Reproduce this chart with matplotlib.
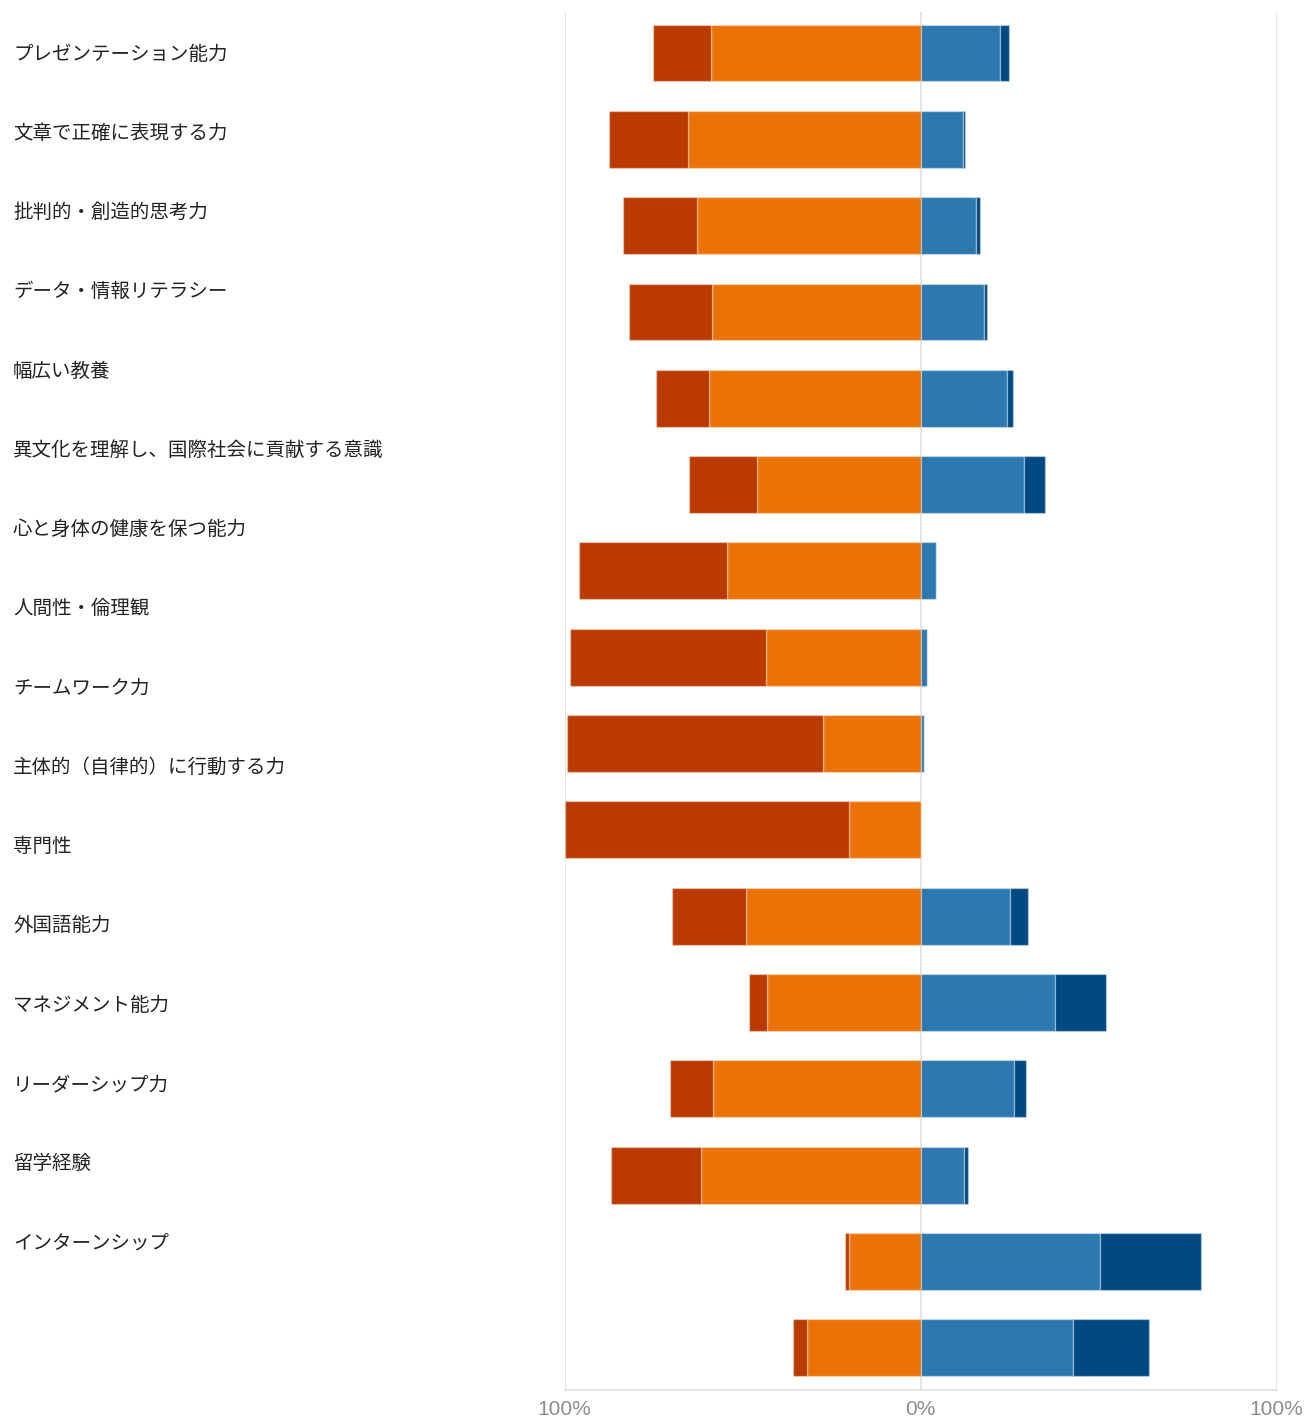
import numpy as np
import matplotlib
matplotlib.use("Agg")
import matplotlib.pyplot as plt

plt.rcParams['font.family'] = ['Noto Sans CJK JP', 'DejaVu Sans']

# 項目ラベル（左側）
labels = [
    'プレゼンテーション能力',
    '文章で正確に表現する力',
    '批判的・創造的思考力',
    'データ・情報リテラシー',
    '幅広い教養',
    '異文化を理解し、国際社会に貢献する意識',
    '心と身体の健康を保つ能力',
    '人間性・倫理観',
    'チームワーク力',
    '主体的（自律的）に行動する力',
    '専門性',
    '外国語能力',
    'マネジメント能力',
    'リーダーシップ力',
    '留学経験',
    'インターンシップ',
]

# values in % (left side: strong / moderate, right side: moderate / strong)
neg_strong = [16.3, 22.3, 20.8, 23.1, 15.0, 19.1, 41.5, 55.1, 71.9, 79.9, 20.8, 5.2, 12.2, 25.2, 1.1, 3.8]
neg_mod    = [58.8, 65.2, 62.7, 58.7, 59.3, 45.8, 54.3, 43.4, 27.4, 20.1, 49.1, 43.0, 58.2, 61.7, 20.1, 31.9]
pos_mod    = [22.3, 12.0, 15.6, 17.8, 24.2, 29.2, 4.3, 1.9, 1.0, 0.0, 25.1, 37.8, 26.3, 12.3, 50.4, 42.9]
pos_strong = [2.5, 0.5, 1.0, 0.8, 1.7, 5.9, 0.0, 0.0, 0.0, 0.0, 5.1, 14.2, 3.4, 1.0, 28.3, 21.3]

xticks = [-100, 0, 100]
xticklabels = ['100%', '0%', '100%']

C_NEG_STRONG = '#bb3a00'
C_NEG_MOD = '#eb7207'
C_POS_MOD = '#2c79b0'
C_POS_STRONG = '#014983'

neg_strong = np.array(neg_strong)
neg_mod = np.array(neg_mod)
pos_mod = np.array(pos_mod)
pos_strong = np.array(pos_strong)
y = np.arange(len(neg_mod))

fig = plt.figure(figsize=(13.1, 14.2), dpi=100)
ax = fig.add_axes([564.5 / 1310, 30 / 1420, 712 / 1310, 1378 / 1420])

edge = dict(edgecolor=(1, 1, 1, 0.35), linewidth=1, height=0.66, zorder=3)
ax.barh(y, -neg_mod, color=C_NEG_MOD, **edge)
ax.barh(y, -neg_strong, left=-neg_mod, color=C_NEG_STRONG, **edge)
ax.barh(y, pos_mod, color=C_POS_MOD, **edge)
ax.barh(y, pos_strong, left=pos_mod, color=C_POS_STRONG, **edge)

ax.set_xlim(-100, 100)
ax.set_ylim(15.487, -0.475)

for s in ['top', 'left', 'right']:
    ax.spines[s].set_visible(False)
ax.spines['bottom'].set_color('#e0e0e0')
ax.spines['bottom'].set_linewidth(1.2)

for xv in xticks:
    ax.axvline(xv, color='#e0e0e0', linewidth=1.2, zorder=1)

ax.set_yticks([])
ax.set_xticks(xticks)
ax.set_xticklabels(xticklabels, fontsize=15, color='#8c8c8c',
                   family=['Liberation Sans', 'DejaVu Sans'])
ax.tick_params(axis='x', length=0, pad=7)

# labels sit on their own spacing, not aligned with bars
for j, lab in enumerate(labels):
    fig.text(13 / 1310, 1 - (54 + j * 79.27) / 1420, lab,
             fontsize=14, color='#222222', ha='left', va='center')

fig.savefig('out.png', dpi=100)
